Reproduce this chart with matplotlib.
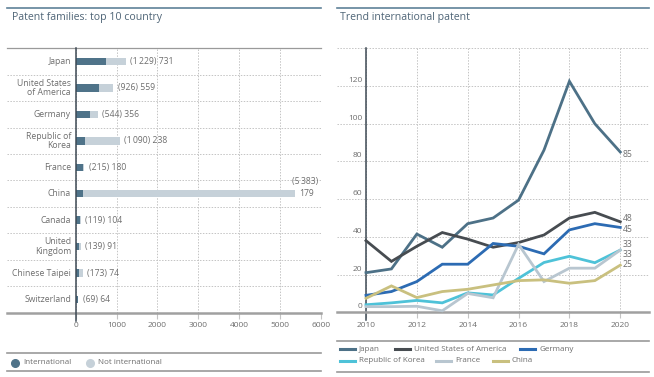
import matplotlib
matplotlib.use("Agg")
import matplotlib.pyplot as plt
from matplotlib.lines import Line2D

plt.rcParams['font.family'] = ['Open Sans', 'DejaVu Sans']

W, H = 654, 377
fig = plt.figure(figsize=(W / 100, H / 100), dpi=100)

def fx(x):
    return x / W

def fy(y):
    return 1 - y / H

TXT = '#6e6e6e'
TITLE = '#4f6577'
GRID = '#c4c4c4'
AXIS = '#a0a0a0'
DARKAX = '#3e4a55'

# ---------------- data ----------------
countries = ['Japan', 'United States\nof America', 'Germany', 'Republic of\nKorea', 'France',
             'China', 'Canada', 'United\nKingdom', 'Chinese Taipei', 'Switzerland']
total_families = [1229, 926, 544, 1090, 215, 5383, 119, 139, 173, 69]
international = [731, 559, 356, 238, 180, 179, 104, 91, 74, 64]
total_labels = ['1\u2009229', '926', '544', '1\u2009090', '215', '5\u2009383', '119', '139', '173', '69']

years = list(range(2010, 2021))
trend = {
    'Japan': [21, 23, 41.5, 34.5, 47, 50, 59.5, 86, 122.5, 100, 85],
    'United States of America': [38, 27, 35, 42.3, 38.8, 34.5, 37, 41, 50, 53, 48],
    'Germany': [9, 11, 16.3, 25.5, 25.5, 36.5, 35, 31, 43.7, 47, 45],
    'Republic of Korea': [4, 5, 6.3, 5, 10.3, 9.2, 18, 26.4, 29.7, 26.3, 33],
    'France': [3, 3, 3.2, 0.8, 10, 7.7, 36, 16.3, 23.4, 23.4, 33],
    'China': [7.4, 14, 7.8, 11, 12.2, 14.5, 16.8, 17.2, 15.4, 16.8, 25],
}
trend_colors = {
    'Japan': '#4d7187',
    'United States of America': '#474c51',
    'Germany': '#2c6bb3',
    'Republic of Korea': '#4ec2d8',
    'France': '#b8c6d0',
    'China': '#c9c07f',
}
end_label_offsets = {  # points
    'Japan': -2, 'United States of America': 2.5, 'Germany': -1.5,
    'Republic of Korea': 4, 'France': -3.5, 'China': 0.5,
}

C_INT = '#4f7389'
C_NOT = '#c6d1d9'

# ---------------- left panel ----------------
fig.add_artist(Line2D([fx(7), fx(321)], [fy(8), fy(8)], color='#5f8198', lw=1.2))
fig.text(fx(12), fy(17.5), 'Patent families: top 10 country', color=TITLE,
         fontsize=7.6, va='center', ha='left')

axL = fig.add_axes([fx(7), fy(312.7), fx(321) - fx(7), fy(48.3) - fy(312.7)])
ypos = list(range(len(countries)))
axL.barh(ypos, total_families, height=0.28, color=C_NOT, zorder=3)
axL.barh(ypos, international, height=0.28, color=C_INT, zorder=4)
axL.set_xlim(-1682, 6008)
axL.set_ylim(9.5, -0.5)
axL.set_xticks([0, 1000, 2000, 3000, 4000, 5000, 6000])
axL.set_xticklabels(['0', '1000', '2000', '3000', '4000', '5000', '6000'])
axL.set_yticks([])
axL.set_yticks([i + 0.5 for i in range(9)], minor=True)
axL.tick_params(axis='y', which='minor', length=0)
axL.tick_params(axis='x', colors=GRID, labelcolor=TXT, labelsize=6, length=4, pad=3)
axL.grid(axis='x', which='major', color=GRID, ls=(0, (1.5, 1.5)), lw=0.7, zorder=0)
axL.grid(axis='y', which='minor', color=GRID, ls=(0, (1.5, 1.5)), lw=0.7, zorder=0)
for s in ['left', 'right']:
    axL.spines[s].set_visible(False)
axL.spines['top'].set_color('#9a9a9a')
axL.spines['top'].set_linewidth(0.9)
axL.spines['bottom'].set_color(AXIS)
axL.spines['bottom'].set_linewidth(1.8)
axL.axvline(0, ymin=-0.03, ymax=1, color=DARKAX, lw=1.1, zorder=5, clip_on=False)

for i, c in enumerate(countries):
    axL.text(-115, i, c, ha='right', va='center', fontsize=6.2, color=TXT,
             linespacing=1.05)
    if c == 'China':
        axL.text(total_families[i] + 100, i, f'{international[i]}', ha='left',
                 va='center', fontsize=6.2, color=TXT)
        axL.text(5950, i - 0.47, f'({total_labels[i]})', ha='right',
                 va='center', fontsize=6.2, color=TXT)
    else:
        axL.text(total_families[i] + 100, i, f'({total_labels[i]}) {international[i]}',
                 ha='left', va='center', fontsize=6.2, color=TXT)

# left legend
fig.add_artist(Line2D([fx(7), fx(321)], [fy(353.3), fy(353.3)], color='#9a9a9a', lw=1.2))
fig.add_artist(Line2D([fx(7), fx(321)], [fy(370.7), fy(370.7)], color='#9a9a9a', lw=1.2))
fig.add_artist(Line2D([fx(15)], [fy(362.7)], marker='o', ms=5.5, color=C_INT, lw=0))
fig.text(fx(23), fy(362.7), 'International', fontsize=5.8, color=TXT, va='center')
fig.add_artist(Line2D([fx(89.5)], [fy(362.7)], marker='o', ms=5.5, color=C_NOT, lw=0))
fig.text(fx(98), fy(362.7), 'Not international', fontsize=5.8, color=TXT, va='center')

# ---------------- right panel ----------------
fig.add_artist(Line2D([fx(337), fx(649)], [fy(8), fy(8)], color='#5f8198', lw=1.2))
fig.text(fx(340), fy(17.5), 'Trend international patent', color=TITLE,
         fontsize=7.6, va='center', ha='left')

axR = fig.add_axes([fx(337), fy(312.3), fx(649) - fx(337), fy(48.3) - fy(312.3)])
axR.set_xlim(2008.86, 2021.13)
axR.set_ylim(0, 140)
axR.set_xticks([2010, 2012, 2014, 2016, 2018, 2020])
axR.set_yticks([20, 40, 60, 80, 100, 120, 140])
axR.tick_params(axis='y', length=0, labelleft=False)
axR.tick_params(axis='x', colors=GRID, labelcolor=TXT, labelsize=6, length=4, pad=3)
axR.grid(True, color=GRID, ls=(0, (1.5, 1.5)), lw=0.7, zorder=0)
axR.axvline(2021.13, color=GRID, ls=(0, (1.5, 1.5)), lw=0.7, zorder=0)
for s in ['left', 'right', 'top']:
    axR.spines[s].set_visible(False)
axR.spines['bottom'].set_color(AXIS)
axR.spines['bottom'].set_linewidth(1.8)
axR.axvline(2010, ymin=-0.03, ymax=1, color=DARKAX, lw=1.1, zorder=2, clip_on=False)
for v in [0, 20, 40, 60, 80, 100, 120]:
    axR.annotate(str(v), (2009.85, v), xytext=(0, 1.5), textcoords='offset points',
                 ha='right', va='bottom', fontsize=6, color=TXT)

for name, vals in trend.items():
    axR.plot(years, vals, color=trend_colors[name], lw=2.0, zorder=4,
             solid_joinstyle='miter', clip_on=False)
    axR.annotate(f'{vals[-1]:.0f}', (years[-1], vals[-1]),
                 xytext=(2, end_label_offsets[name]), textcoords='offset points',
                 ha='left', va='center', fontsize=6.2, color=TXT)

# right legend
fig.add_artist(Line2D([fx(337), fx(649)], [fy(341), fy(341)], color='#9a9a9a', lw=1.2))
fig.add_artist(Line2D([fx(337), fx(649)], [fy(371.7), fy(371.7)], color='#9a9a9a', lw=1.2))
leg_items = [
    ('Japan', 340, 349.3), ('United States of America', 395, 349.3), ('Germany', 520, 349.3),
    ('Republic of Korea', 340, 361), ('France', 436, 361), ('China', 493, 361),
]
for name, x0, y0 in leg_items:
    fig.add_artist(Line2D([fx(x0), fx(x0 + 15)], [fy(y0), fy(y0)],
                          color=trend_colors[name], lw=2.2))
    fig.text(fx(x0 + 19), fy(y0), name, fontsize=5.8, color=TXT, va='center')

fig.savefig('out.png', dpi=100)
